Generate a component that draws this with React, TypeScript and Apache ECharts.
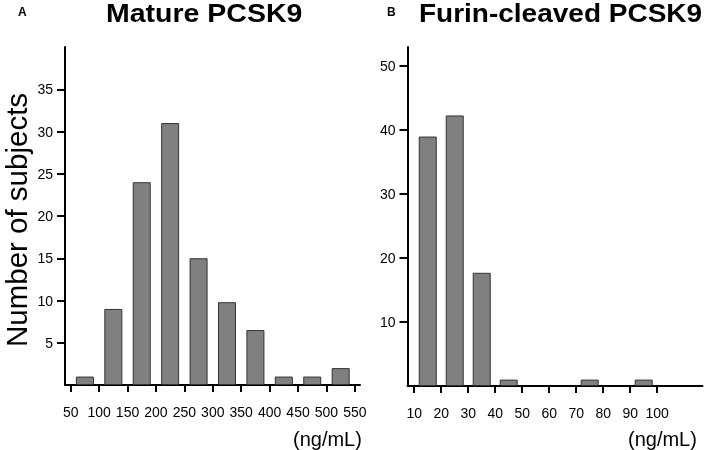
import React, { useEffect, useRef } from "react";
import * as echarts from "echarts";

const matureBinCenters = [75, 125, 175, 225, 275, 325, 375, 425, 475, 525];
const matureCounts = [1, 9, 24, 31, 15, 9.8, 6.5, 1, 1, 2];
const matureXTicks = [50, 100, 150, 200, 250, 300, 350, 400, 450, 500, 550];
const matureYTicks = [5, 10, 15, 20, 25, 30, 35];

const furinBinCenters = [15, 25, 35, 45, 75, 95];
const furinCounts = [39, 42.3, 17.7, 1, 1, 1];
const furinXTicks = [10, 20, 30, 40, 50, 60, 70, 80, 90, 100];
const furinYTicks = [10, 20, 30, 40, 50];

const FONT = "'Liberation Sans', Arial, sans-serif";

export default function App() {
  const ref = useRef<HTMLDivElement>(null);
  useEffect(() => {
    if (!ref.current) return;
    const chart = echarts.init(ref.current, null, { renderer: "svg" });
    const axisLine = { show: true, onZero: false, lineStyle: { color: "#000", width: 2 } };
    const tickStyle = { color: "#000", width: 2 };
    const label = (vals: number[], margin: number) => ({
      customValues: vals,
      margin,
      fontSize: 14,
      color: "#000",
      fontFamily: FONT,
    });
    const xAx = (grid: number, min: number, max: number, ticks: number[]) => ({
      type: "value",
      gridIndex: grid,
      min,
      max,
      axisLine,
      axisTick: { show: true, length: 7, customValues: ticks, lineStyle: tickStyle },
      axisLabel: label(ticks, 20),
      splitLine: { show: false },
    });
    const yAx = (grid: number, min: number, max: number, ticks: number[]) => ({
      type: "value",
      gridIndex: grid,
      min,
      max,
      axisLine,
      axisTick: { show: true, length: 8, customValues: ticks, lineStyle: tickStyle },
      axisLabel: label(ticks, 12),
      splitLine: { show: false },
    });
    const barStyle = { color: "#808080", borderColor: "#333", borderWidth: 1 };
    chart.setOption({
      animation: false,
      grid: [
        { left: 65, top: 47, width: 295, height: 338 },
        { left: 407.5, top: 47, width: 295, height: 339 },
      ],
      xAxis: [xAx(0, 40, 559, matureXTicks), xAx(1, 7.5, 116.8, furinXTicks)],
      yAxis: [yAx(0, 0, 40, matureYTicks), yAx(1, 0, 53, furinYTicks)],
      series: [
        {
          type: "bar",
          xAxisIndex: 0,
          yAxisIndex: 0,
          barWidth: 18,
          itemStyle: barStyle,
          data: matureBinCenters.map((c, i) => [c, matureCounts[i]]),
        },
        {
          type: "bar",
          xAxisIndex: 1,
          yAxisIndex: 1,
          barWidth: 18,
          itemStyle: barStyle,
          data: furinBinCenters.map((c, i) => [c, furinCounts[i]]),
        },
      ],
      graphic: [
        { type: "text", x: 18, y: 12, style: { text: "A", font: `bold 12px ${FONT}`, fill: "#000", align: "left", verticalAlign: "middle" } },
        { type: "text", x: 387, y: 12, style: { text: "B", font: `bold 12px ${FONT}`, fill: "#000", align: "left", verticalAlign: "middle" } },
        { type: "text", x: 106, y: 14, scaleX: 1.14, style: { text: "Mature PCSK9", font: `bold 25px ${FONT}`, fill: "#000", align: "left", verticalAlign: "middle" } },
        { type: "text", x: 419, y: 14, scaleX: 1.12, style: { text: "Furin-cleaved PCSK9", font: `bold 25px ${FONT}`, fill: "#000", align: "left", verticalAlign: "middle" } },
        { type: "text", x: 16, y: 220, rotation: Math.PI / 2, style: { text: "Number of subjects", font: `29.5px ${FONT}`, fill: "#000", align: "center", verticalAlign: "middle" } },
        { type: "text", x: 293, y: 439, style: { text: "(ng/mL)", font: `20px ${FONT}`, fill: "#000", align: "left", verticalAlign: "middle" } },
        { type: "text", x: 628, y: 439, style: { text: "(ng/mL)", font: `20px ${FONT}`, fill: "#000", align: "left", verticalAlign: "middle" } },
      ],
    });
    return () => chart.dispose();
  }, []);
  return <div ref={ref} style={{ position: "fixed", left: 0, top: 0, width: 709, height: 450 }} />;
}
